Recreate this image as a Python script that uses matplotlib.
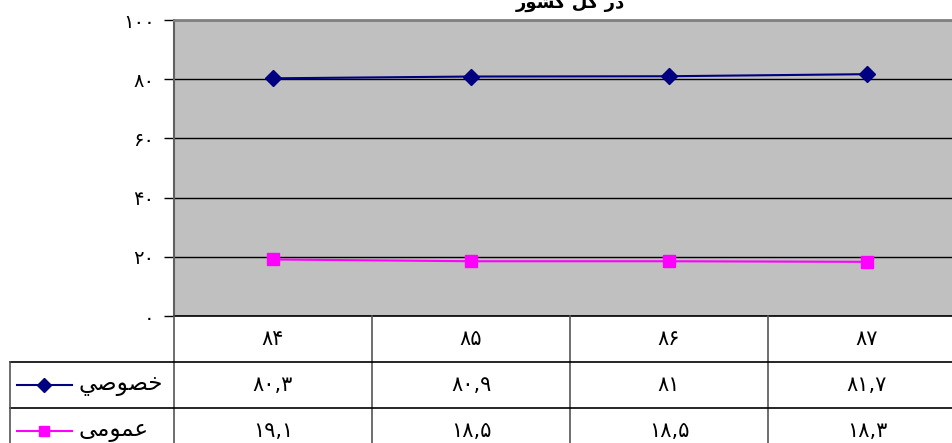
import matplotlib
matplotlib.use("Agg")
import matplotlib.pyplot as plt
from matplotlib.lines import Line2D
from matplotlib.transforms import blended_transform_factory

plt.rcParams['font.family'] = ['DejaVu Sans']

# ---- data ----
years = [84, 85, 86, 87]
private_vals = [80.3, 80.9, 81, 81.7]
public_vals = [19.1, 18.5, 18.5, 18.3]
# series names, already in visual (shaped, left-to-right) presentation forms
private_name = "\uFEF2\uFEBB\uFEEE\uFEBC\uFEA7"      # خصوصي
public_name = "\uFEF0\uFEE3\uFEEE\uFEE4\uFECB"       # عمومی
title_text = "\uFEAD\uFEEE\uFEB8\uFB90 \uFEDE\uFB90 \uFEAD\uFEA9"  # در کل کشور
yticks = [0, 20, 40, 60, 80, 100]

PERSIAN = str.maketrans("0123456789", "\u06F0\u06F1\u06F2\u06F3\u06F4\u06F5\u06F6\u06F7\u06F8\u06F9")


def fa(v):
    return f"{v:g}".replace('.', ',').translate(PERSIAN)


W, H = 952, 443
fig = plt.figure(figsize=(W / 100, H / 100), dpi=100)
fig.patch.set_facecolor('white')


def fx(px):
    return px / W


def fy(py):
    return (H - py) / H


left_px, right_px, top_px, bot_px = 174, 966, 20, 316
ax = fig.add_axes([fx(left_px), fy(bot_px), fx(right_px - left_px), (bot_px - top_px) / H])
ax.set_facecolor('#C0C0C0')

x = list(range(len(years)))
ax.plot(x, private_vals, color='#000080', lw=1.5, marker='D', ms=8,
        markerfacecolor='#000080', markeredgecolor='#000080', zorder=3)
ax.plot(x, public_vals, color='#FF00FF', lw=1.5, marker='s', ms=8,
        markerfacecolor='#FF00FF', markeredgecolor='#FF00FF', zorder=3)

ax.set_xlim(-0.5, len(years) - 0.5)
ax.set_ylim(0, 100)
ax.set_yticks(yticks)
ax.set_yticklabels([fa(v) for v in yticks], fontsize=14)
ax.tick_params(axis='y', direction='out', length=7, width=1, pad=7, color='black')
ax.set_xticks([])
ax.yaxis.grid(True, color='black', lw=1)
ax.set_axisbelow(True)
ax.spines['right'].set_visible(False)
ax.spines['top'].set_color('#808080')
ax.spines['top'].set_linewidth(2)
ax.spines['left'].set_color('#606060')
ax.spines['left'].set_linewidth(1.5)
ax.spines['bottom'].set_color('black')
ax.spines['bottom'].set_linewidth(1.2)

# title (partly cut off at the top, as in the reference)
fig.text(fx(570), fy(8), title_text, ha='center', va='baseline',
         fontsize=13, fontweight='bold')

# ---- data table ----
bt = blended_transform_factory(ax.transData, fig.transFigure)
rows_px = [316, 362, 408, 454]
for xb in [i - 0.5 for i in range(len(years) + 1)]:
    fig.add_artist(Line2D([xb, xb], [fy(316), fy(454)], transform=bt,
                          color='#555555', lw=1.2, clip_on=False))
for ry in rows_px[1:3]:
    fig.add_artist(Line2D([fx(10), fx(right_px)], [fy(ry), fy(ry)],
                          transform=fig.transFigure, color='black', lw=1.2))
fig.add_artist(Line2D([fx(10), fx(10)], [fy(362), fy(454)],
                      transform=fig.transFigure, color='#555555', lw=1.2))

row_c = [(rows_px[i] + rows_px[i + 1]) / 2 for i in range(3)]
for i, yr in enumerate(years):
    fig.text(i, fy(row_c[0]), fa(yr), transform=bt, ha='center', va='center', fontsize=15)
    fig.text(i, fy(row_c[1]), fa(private_vals[i]), transform=bt, ha='center', va='center', fontsize=15)
    fig.text(i, fy(row_c[2]), fa(public_vals[i]), transform=bt, ha='center', va='center', fontsize=15)

# legend keys in the table
for rc, col, mk, name in [(row_c[1], '#000080', 'D', private_name),
                          (row_c[2], '#FF00FF', 's', public_name)]:
    fig.add_artist(Line2D([fx(17), fx(72)], [fy(rc), fy(rc)], transform=fig.transFigure,
                          color=col, lw=1.5))
    fig.add_artist(Line2D([fx(44)], [fy(rc)], transform=fig.transFigure, color=col,
                          marker=mk, ms=7, markerfacecolor=col, markeredgecolor=col))
    fig.text(fx(78), fy(rc), name, ha='left', va='center', fontsize=16.5)

fig.savefig('out.png', dpi=100)
